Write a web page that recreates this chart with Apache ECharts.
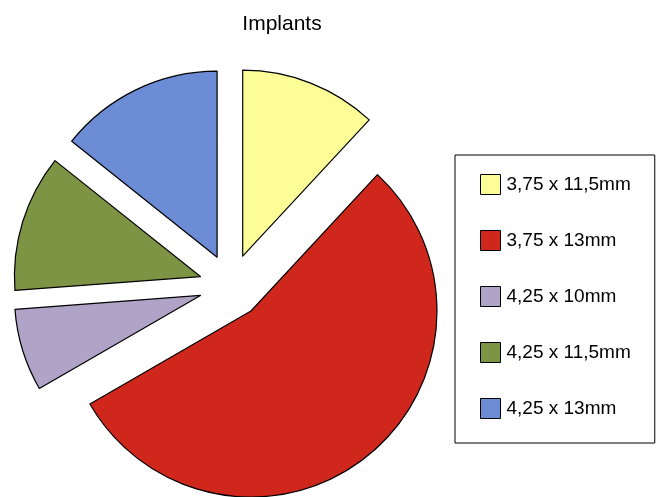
<!DOCTYPE html>
<html>
<head>
<meta charset="utf-8">
<script src="https://cdn.jsdelivr.net/npm/echarts@6/dist/echarts.min.js"></script>
<style>html,body{margin:0;padding:0;background:#fff;}#c{width:657px;height:497px;}</style>
</head>
<body>
<div id="c"></div>
<script>
const categories = ['3,75 x 11,5mm', '3,75 x 13mm', '4,25 x 10mm', '4,25 x 11,5mm', '4,25 x 13mm'];
const values = [5, 23, 3, 5, 6];
const colors = ['#FDFD98', '#D0271C', '#B0A3C8', '#7D9444', '#6C8DD5'];

const chart = echarts.init(document.getElementById('c'), null, {renderer: 'canvas'});
chart.setOption({
  animation: false,
  backgroundColor: '#ffffff',
  title: {
    text: 'Implants',
    left: 277, top: 9, textAlign: 'center',
    textStyle: {fontFamily: 'Liberation Sans, Arial, sans-serif', fontSize: 21, fontWeight: 'normal', color: '#000'}
  },
  legend: {
    orient: 'vertical',
    left: 455, top: 155,
    padding: [19, 24, 24, 25],
    itemWidth: 20, itemHeight: 20, itemGap: 35,
    icon: 'rect',
    borderColor: '#000', borderWidth: 1,
    selectedMode: false,
    data: categories,
    textStyle: {fontFamily: 'Liberation Sans, Arial, sans-serif', fontSize: 19, color: '#000', lineHeight: 20, padding: [0,0,0,1]},
    itemStyle: {borderColor: '#000', borderWidth: 1}
  },
  series: [{
    type: 'pie',
    center: [231, 286],
    radius: [0, 186],
    startAngle: 90,
    clockwise: true,
    selectedMode: 'multiple',
    selectedOffset: 32,
    label: {show: false},
    labelLine: {show: false},
    emphasis: {disabled: true},
    itemStyle: {borderColor: '#000', borderWidth: 1.2},
    data: categories.map((n, i) => ({name: n, value: values[i], selected: true, itemStyle: {color: colors[i]}}))
  }]
});
</script>
</body>
</html>
